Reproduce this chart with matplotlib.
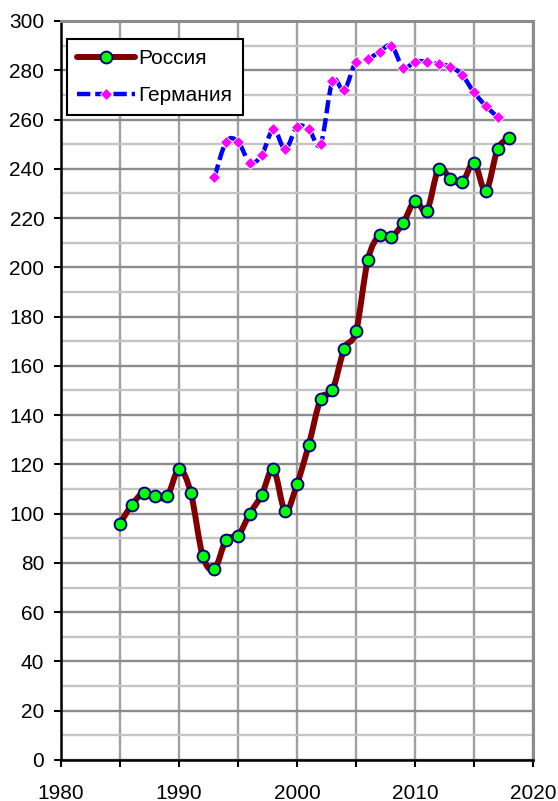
import numpy as np
import matplotlib
matplotlib.use("Agg")
import matplotlib.pyplot as plt
from matplotlib.path import Path
from matplotlib.patches import PathPatch
from matplotlib.ticker import MultipleLocator

plt.rcParams['font.family'] = ['Liberation Sans', 'DejaVu Sans']

# --- data ---
russia_years = np.arange(1985, 2019)
russia_vals = [96, 103.5, 108.5, 107, 107, 118, 108.5, 83, 77.5, 89.5, 91,
               100, 107.5, 118, 101, 112, 128, 146.5, 150, 167, 174,
               203, 213, 212.5, 218, 227, 223, 240, 236, 234.5, 242.5,
               231, 248, 252.5]

germany_years = np.arange(1993, 2018)
germany_vals = [236.5, 251, 251, 242.5, 245.5, 256, 248, 257, 256, 250,
                275.5, 272, 283.5, 284.5, 287.5, 290, 281, 283.5, 283.5,
                282.5, 281.5, 278, 271, 265.5, 261]


def smooth_path(x, y):
    # Excel-style smoothed line: Catmull-Rom segments as cubic Bezier curves
    pts = np.column_stack([x, y]).astype(float)
    verts = [pts[0]]
    codes = [Path.MOVETO]
    n = len(pts)
    for i in range(n - 1):
        p0 = pts[i - 1] if i > 0 else pts[i]
        p1 = pts[i]
        p2 = pts[i + 1]
        p3 = pts[i + 2] if i + 2 < n else pts[i + 1]
        c1 = p1 + (p2 - p0) / 6.0
        c2 = p2 - (p3 - p1) / 6.0
        verts += [c1, c2, p2]
        codes += [Path.CURVE4] * 3
    return Path(verts, codes)


fig = plt.figure(figsize=(5.58, 8.01), dpi=100)
ax = fig.add_axes([0.1093, 0.0512, 0.846, 0.9226])

ax.set_xlim(1980, 2020)
ax.set_ylim(0, 300)
ax.xaxis.set_major_locator(MultipleLocator(10))
ax.xaxis.set_minor_locator(MultipleLocator(5))
ax.yaxis.set_major_locator(MultipleLocator(20))
ax.yaxis.set_minor_locator(MultipleLocator(10))

ax.grid(True, which='major', axis='y', color='#8c8c8c', linewidth=1.7)
ax.grid(True, which='minor', axis='y', color='#c4c4c4', linewidth=1.7)
ax.grid(True, which='both', axis='x', color='#a0a0a0', linewidth=1.7)
ax.set_axisbelow(True)

for side in ['top', 'right']:
    ax.spines[side].set_color('#8c8c8c')
    ax.spines[side].set_linewidth(2.2)
for side in ['left', 'bottom']:
    ax.spines[side].set_color('black')
    ax.spines[side].set_linewidth(1.8)

ax.tick_params(axis='both', which='major', direction='out', length=5, width=1.5,
               labelsize=15, colors='black')
ax.tick_params(axis='y', which='minor', length=0)
ax.tick_params(axis='y', which='major', pad=7)
ax.tick_params(axis='x', which='minor', direction='out', length=5, width=1.5)
ax.tick_params(axis='x', which='major', pad=12)

# Germany
ax.add_patch(PathPatch(smooth_path(germany_years, germany_vals), fill=False,
                       edgecolor='#0000ff', linewidth=3.2, linestyle=(0, (3, 1.1)),
                       zorder=3))
ax.plot(germany_years, germany_vals, linestyle='none', marker='D', markersize=6.5,
        markerfacecolor='#ff00ff', markeredgecolor='white', markeredgewidth=0.6,
        zorder=4)

# Russia
ax.add_patch(PathPatch(smooth_path(russia_years, russia_vals), fill=False,
                       edgecolor='#800000', linewidth=4.3, zorder=5,
                       capstyle='round', joinstyle='round'))
ax.plot(russia_years, russia_vals, linestyle='none', marker='o', markersize=8.5,
        markerfacecolor='#00ff00', markeredgecolor='#000080', markeredgewidth=1.4,
        zorder=6)

h_ru, = ax.plot([], [], color='#800000', linewidth=4.3, marker='o', markersize=8.5,
                markerfacecolor='#00ff00', markeredgecolor='#000080',
                markeredgewidth=1.4, solid_capstyle='round')
h_de, = ax.plot([], [], color='#0000ff', linewidth=3.2, linestyle=(0, (3, 1.1)),
                marker='D', markersize=6.5, markerfacecolor='#ff00ff',
                markeredgecolor='white', markeredgewidth=0.6)
leg = ax.legend([h_ru, h_de], ['Россия', 'Германия'], loc='upper left',
                bbox_to_anchor=(0.012, 0.976), borderaxespad=0, fontsize=15,
                frameon=True, fancybox=False, handlelength=2.8, handletextpad=0.15,
                labelspacing=0.85, borderpad=0.5, numpoints=1)
leg.get_frame().set_edgecolor('black')
leg.get_frame().set_linewidth(1.5)
leg.get_frame().set_alpha(1)

fig.savefig('out.png', dpi=100)
